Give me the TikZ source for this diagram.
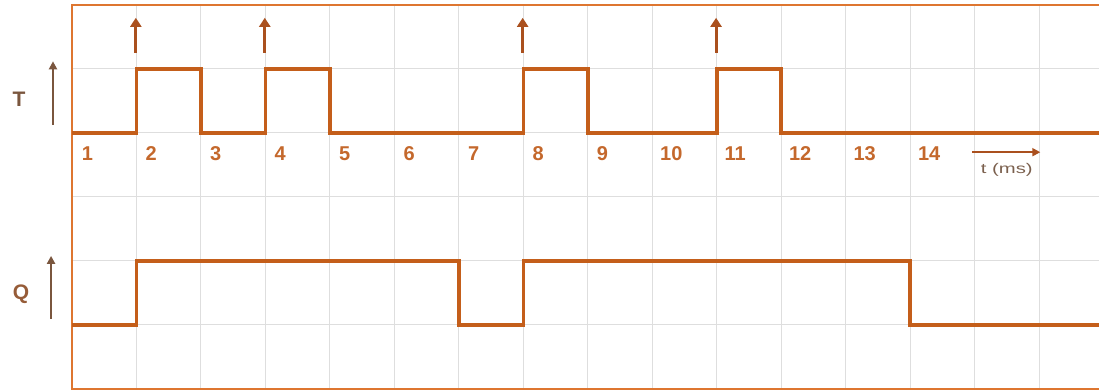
\documentclass[tikz,border=0pt]{standalone}
\usepackage{fontspec}
\setmainfont{Liberation Sans}
\usetikzlibrary{arrows.meta}
\definecolor{wave}{RGB}{196,94,26}
\definecolor{frame}{RGB}{222,118,48}
\definecolor{num}{RGB}{196,104,44}
\definecolor{lab}{RGB}{122,86,62}
\definecolor{labq}{RGB}{150,92,56}
\definecolor{gridc}{RGB}{222,222,222}
\definecolor{pulse}{RGB}{170,80,30}
\tikzset{
  wavel/.style={draw=wave, line width=3.6pt, line join=miter},
  framel/.style={draw=frame, line width=2.6pt},
  gridl/.style={draw=gridc, line width=1pt},
  numlab/.style={anchor=base west, inner sep=0pt, text=num, font=\bfseries\fontsize{20}{20}\selectfont},
  siglab/.style={inner sep=0pt, text=lab, font=\bfseries\fontsize{21}{21}\selectfont},
  pulsearrow/.style={draw=pulse, line width=3pt, -{Triangle[length=9pt,width=11pt]}},
  axarrow/.style={draw=lab, line width=2pt, -{Triangle[length=8pt,width=8pt]}},
}
\begin{document}
\begin{tikzpicture}[x=64.47pt, y=64pt]
\useasboundingbox (-1.117,-0.031) rectangle (15.93,6.078);
% grid
\foreach \i in {1,...,15} \draw[gridl] (\i,0) -- (\i,6);
\foreach \j in {1,...,5} \draw[gridl] (0,\j) -- (15.93,\j);
% frame
\draw[framel] (15.93,6) -- (0,6) -- (0,0) -- (15.93,0);
% T waveform
\draw[wavel] (0,4) -- (1,4) -- (1,5) -- (2,5) -- (2,4) -- (3,4) -- (3,5) -- (4,5) -- (4,4)
  -- (7,4) -- (7,5) -- (8,5) -- (8,4) -- (10,4) -- (10,5) -- (11,5) -- (11,4) -- (15.93,4);
% Q waveform
\draw[wavel] (0,1) -- (1,1) -- (1,2) -- (6,2) -- (6,1) -- (7,1) -- (7,2) -- (13,2) -- (13,1) -- (15.93,1);
% clock arrows
\foreach \x in {1,3,7,10} {
  \coordinate (pa\x) at (\x-0.01,5.25);
  \coordinate (pb\x) at (\x-0.01,5.8);
  \draw[pulsearrow] (pa\x) -- (pb\x);
}
% labels
\node[siglab] (T) at (-0.82,4.52) {T};
\node[siglab, text=labq] (Q) at (-0.79,1.48) {Q};
\coordinate (ta) at (-0.295,4.13);
\coordinate (tb) at (-0.295,5.12);
\draw[axarrow] (ta) -- (tb);
\coordinate (qa) at (-0.325,1.1);
\coordinate (qb) at (-0.325,2.08);
\draw[axarrow] (qa) -- (qb);
% numbers
\foreach \k/\xx in {1/0.15,2/1.14,3/2.14,4/3.14,5/4.14,6/5.14,7/6.14,8/7.14,9/8.14,10/9.12,11/10.12,12/11.12,13/12.12,14/13.12} {
  \node[numlab] (n\k) at (\xx,3.57) {\k};
}
% time axis
\coordinate (xa) at (13.96,3.70);
\coordinate (xb) at (15.02,3.70);
\draw[draw=pulse, line width=1.8pt, -{Triangle[length=8pt,width=8pt]}] (xa) -- (xb);
\node[inner sep=0pt, text=lab!75!gray, xscale=1.45, font=\fontsize{14}{14}\selectfont] (tms) at (14.50,3.43) {t (ms)};
\end{tikzpicture}
\end{document}
